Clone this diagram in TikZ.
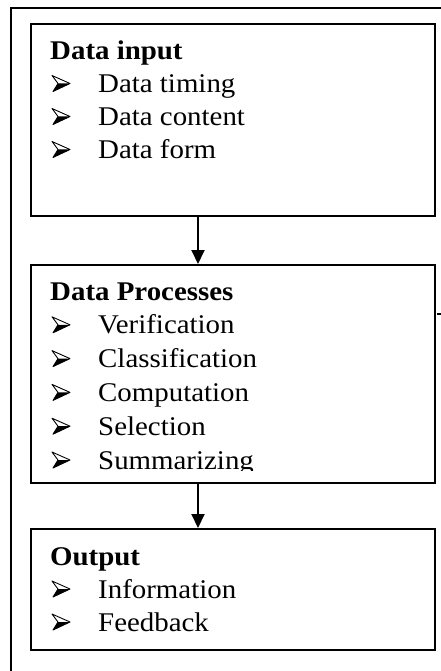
\documentclass[tikz,border=0pt]{standalone}
\usepackage{fontspec}
\setmainfont{Liberation Serif}[FakeStretch=1.07]
\usetikzlibrary{arrows.meta}

\tikzset{
  box/.style={draw, line width=2pt, minimum width=404pt, anchor=north west, inner sep=0pt},
  head/.style={anchor=base west, inner sep=0pt, font=\fontsize{27}{33}\selectfont\bfseries},
  item/.style={anchor=base west, inner sep=0pt, font=\fontsize{27}{33}\selectfont},
  flow/.style={line width=2pt, -{Triangle[length=14pt,width=13pt]}},
  bullet/.pic={
    \fill (6,-9) -- (18,-9) -- (1,-1) -- cycle;
    \draw[line width=0.9pt, line join=round] (6,-9) -- (0,-17) -- (18,-9) -- (1,-1) -- cycle;
  }
}

\begin{document}
\begin{tikzpicture}[x=1pt,y=-1pt]
  \useasboundingbox (0,0) rectangle (441,671);
  \coordinate (frame-top) at (441,8);
  \coordinate (frame-bot) at (11,671);
  \draw[line width=2pt] (frame-bot) |- (frame-top);

  \node[box, minimum height=192pt] (inbox) at (30,23) {};
  \node[box, minimum height=218pt] (procbox) at (30,264) {};
  \node[box, minimum height=121pt] (outbox) at (30,528) {};

  \node[head] (in-head) at (50,59.5) {Data input};
  \foreach \t [count=\i] in {Data timing, Data content, Data form} {
    \node[item] (in-\i) at (98,{59.5+33*\i}) {\t};
    \pic at (52,{59.5+33*\i}) {bullet};
  }

  \node[head] (proc-head) at (50,300) {Data Processes};
  \begin{scope}
    \clip (30,264) rectangle (434,470);
    \foreach \t [count=\i] in {Verification, Classification, Computation, Selection, Summarizing} {
      \node[item] (proc-\i) at (98,{300+33.8*\i}) {\t};
      \pic at (52,{300+33.8*\i}) {bullet};
    }
  \end{scope}

  \node[head] (out-head) at (50,565) {Output};
  \foreach \t [count=\i] in {Information, Feedback} {
    \node[item] (out-\i) at (98,{565+33*\i}) {\t};
    \pic at (52,{565+33*\i}) {bullet};
  }

  \coordinate (ax) at (198,0);
  \draw[flow] (inbox.south -| ax) -- (procbox.north -| ax);
  \draw[flow] (procbox.south -| ax) -- (outbox.north -| ax);

  \coordinate (stub-a) at (437,314);
  \coordinate (stub-b) at (441,314);
  \draw[line width=1.5pt] (stub-a) -- (stub-b);
\end{tikzpicture}
\end{document}
